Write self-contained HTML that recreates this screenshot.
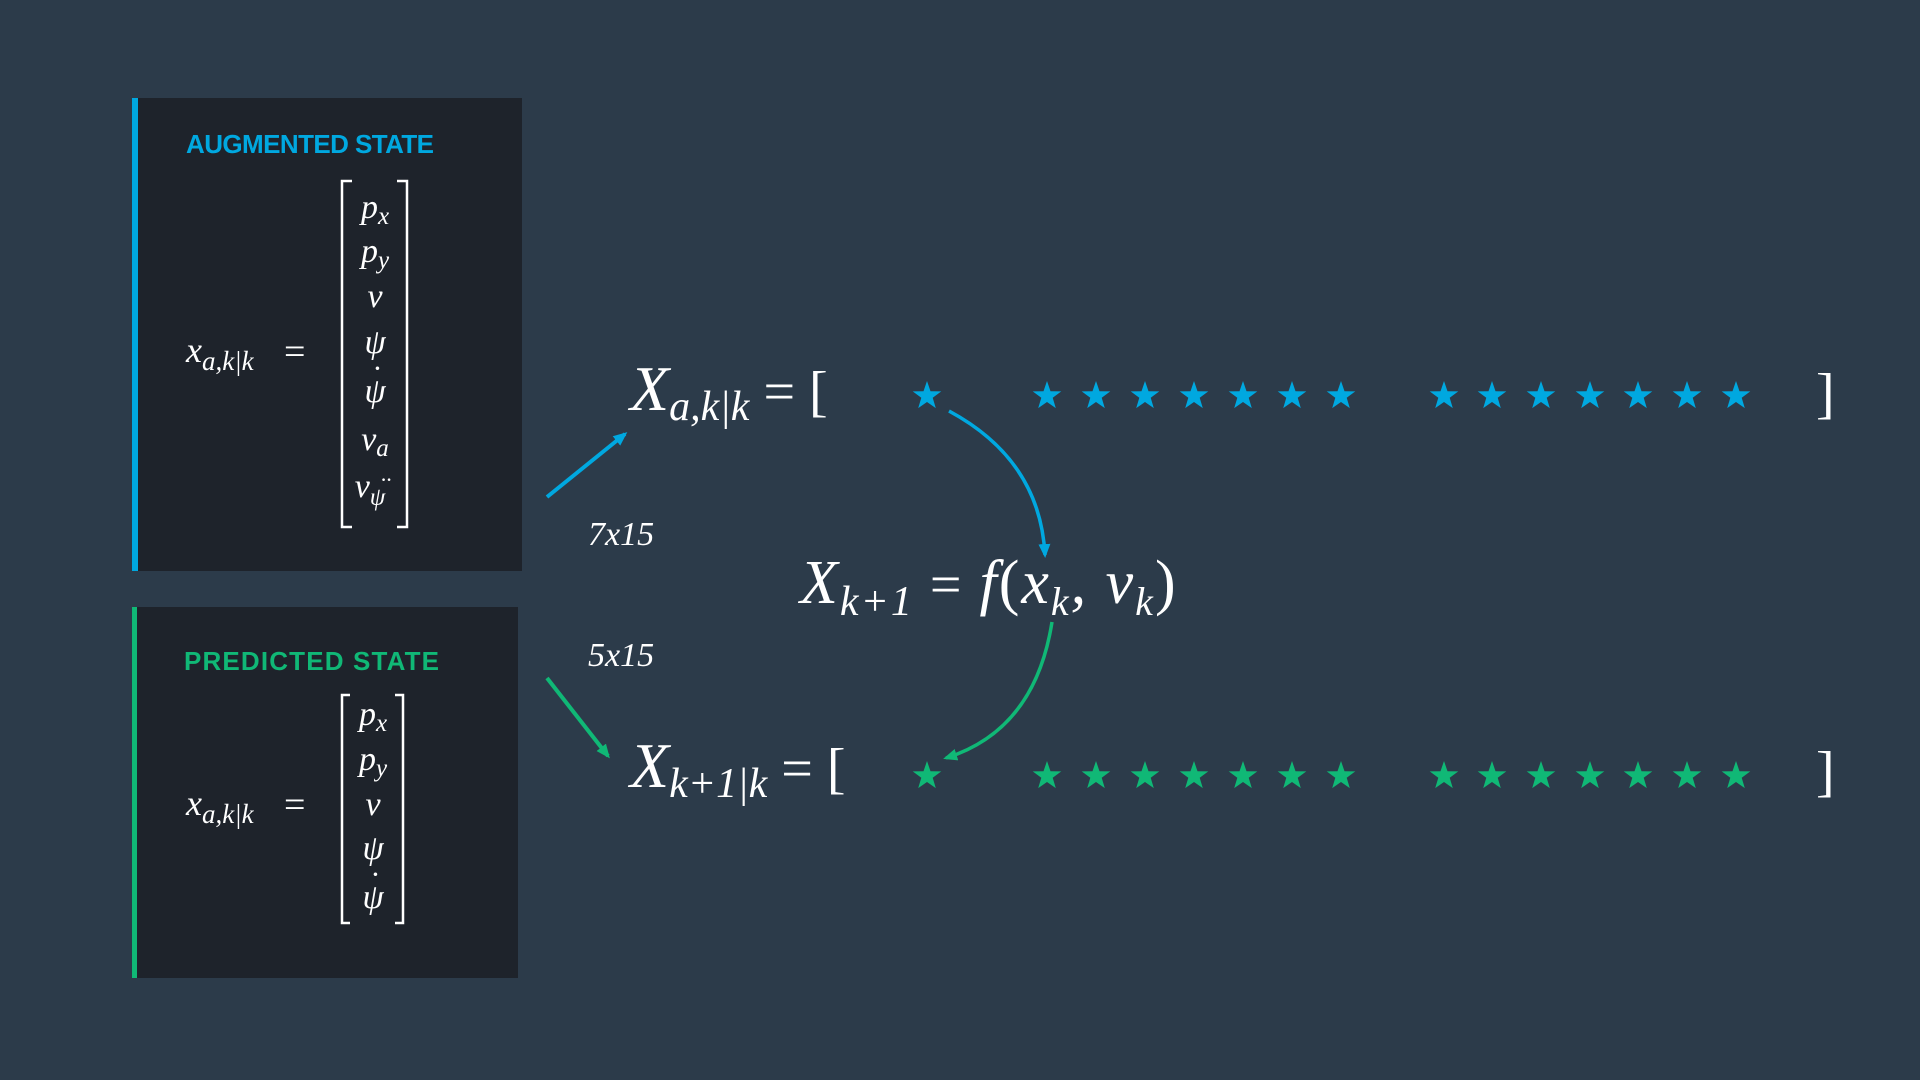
<!DOCTYPE html>
<html><head><style>
html,body{margin:0;padding:0;background:#2c3b4a;}
svg{display:block}
.m{font-family:"Liberation Serif",serif;font-style:italic;fill:#fff}
.r{font-family:"Liberation Serif",serif;fill:#fff}
.t{font-family:"Liberation Sans",sans-serif;font-weight:bold;font-size:26px}
</style></head><body>
<svg width="1920" height="1080" viewBox="0 0 1920 1080" xmlns="http://www.w3.org/2000/svg">
<defs>
<path id="st" d="M0,-15 L3.5,-4.8 L14.3,-4.6 L5.7,1.8 L8.8,12.1 L0,6 L-8.8,12.1 L-5.7,1.8 L-14.3,-4.6 L-3.5,-4.8 Z"/>
<marker id="ab" markerWidth="14" markerHeight="14" refX="11" refY="7" orient="auto" markerUnits="userSpaceOnUse"><path d="M0,1 L14,7 L0,13 Z" fill="#00a8e0"/></marker>
<marker id="ag" markerWidth="14" markerHeight="14" refX="11" refY="7" orient="auto" markerUnits="userSpaceOnUse"><path d="M0,1 L14,7 L0,13 Z" fill="#10b876"/></marker>
</defs>
<rect width="1920" height="1080" fill="#2c3b4a"/>
<!-- box 1 -->
<rect x="132" y="98" width="390" height="473" fill="#1e232b"/>
<rect x="132" y="98" width="6" height="473" fill="#00a8e0"/>
<text x="186" y="153" class="t" fill="#00a8e0" textLength="248">AUGMENTED STATE</text>
<text x="186" y="362" class="m" font-size="36">x<tspan font-size="27" dy="8">a,k|k</tspan></text>
<text x="284" y="364" class="r" font-size="38">=</text>
<path d="M352,181 H342 V527 H352 M397,181 H407 V527 H397" stroke="#fff" stroke-width="2.5" fill="none"/>
<g class="m" font-size="34" text-anchor="middle">
<text x="375" y="218">p<tspan font-size="25" dy="6">x</tspan></text>
<text x="375" y="262">p<tspan font-size="25" dy="6">y</tspan></text>
<text x="375" y="307">v</text>
<text x="375" y="353">ψ</text>
<text x="375" y="402">ψ</text>
<text x="377" y="378" font-size="30">·</text>
<text x="375" y="450">ν<tspan font-size="25" dy="6">a</tspan></text>
<text x="370" y="497">ν<tspan font-size="25" dy="8">ψ</tspan></text>
<text x="386" y="487" font-size="22">··</text>
</g>
<!-- box 2 -->
<rect x="132" y="607" width="386" height="371" fill="#1e232b"/>
<rect x="132" y="607" width="5" height="371" fill="#10b876"/>
<text x="184" y="670" class="t" fill="#10b876" textLength="255">PREDICTED STATE</text>
<text x="186" y="815" class="m" font-size="36">x<tspan font-size="27" dy="8">a,k|k</tspan></text>
<text x="284" y="817" class="r" font-size="38">=</text>
<path d="M350,695 H342 V923 H350 M395,695 H403 V923 H395" stroke="#fff" stroke-width="2.5" fill="none"/>
<g class="m" font-size="34" text-anchor="middle">
<text x="373" y="725">p<tspan font-size="25" dy="6">x</tspan></text>
<text x="373" y="770">p<tspan font-size="25" dy="6">y</tspan></text>
<text x="373" y="815">v</text>
<text x="373" y="859">ψ</text>
<text x="373" y="908">ψ</text>
<text x="375" y="884" font-size="30">·</text>
</g>
<!-- labels -->
<text x="588" y="545" class="m" font-size="34">7x15</text>
<text x="588" y="666" class="m" font-size="34">5x15</text>
<!-- equations -->
<text x="630" y="410" class="m" font-size="64">X<tspan font-size="42" dy="10">a,k|k</tspan><tspan class="r" font-style="normal" font-size="56" dy="-10"> = [</tspan></text>
<text x="630" y="787" class="m" font-size="64">X<tspan font-size="42" dy="10">k+1|k</tspan><tspan class="r" font-style="normal" font-size="56" dy="-10"> = [</tspan></text>
<text x="800" y="603" class="m" font-size="62" letter-spacing="2">X<tspan font-size="42" dy="12">k+1</tspan><tspan font-style="normal" font-size="56" dy="-12"> = </tspan>f<tspan font-style="normal">(</tspan>x<tspan font-size="40" dy="12">k</tspan><tspan dy="-12">, ν</tspan><tspan font-size="40" dy="12">k</tspan><tspan font-style="normal" dy="-12">)</tspan></text>
<text x="1816" y="412" class="r" font-size="56">]</text>
<text x="1816" y="790" class="r" font-size="56">]</text>
<!-- stars -->
<g fill="#00a8e0">
<use href="#st" x="927" y="396"/><use href="#st" x="1047" y="396"/><use href="#st" x="1096" y="396"/><use href="#st" x="1145" y="396"/><use href="#st" x="1194" y="396"/><use href="#st" x="1243" y="396"/><use href="#st" x="1292" y="396"/><use href="#st" x="1341" y="396"/>
<use href="#st" x="1444" y="396"/><use href="#st" x="1492" y="396"/><use href="#st" x="1541" y="396"/><use href="#st" x="1590" y="396"/><use href="#st" x="1638" y="396"/><use href="#st" x="1687" y="396"/><use href="#st" x="1736" y="396"/>
</g>
<g fill="#10b876">
<use href="#st" x="927" y="776"/><use href="#st" x="1047" y="776"/><use href="#st" x="1096" y="776"/><use href="#st" x="1145" y="776"/><use href="#st" x="1194" y="776"/><use href="#st" x="1243" y="776"/><use href="#st" x="1292" y="776"/><use href="#st" x="1341" y="776"/>
<use href="#st" x="1444" y="776"/><use href="#st" x="1492" y="776"/><use href="#st" x="1541" y="776"/><use href="#st" x="1590" y="776"/><use href="#st" x="1638" y="776"/><use href="#st" x="1687" y="776"/><use href="#st" x="1736" y="776"/>
</g>
<!-- arrows -->
<line x1="547" y1="497" x2="625" y2="434" stroke="#00a8e0" stroke-width="4" marker-end="url(#ab)"/>
<line x1="547" y1="678" x2="608" y2="756" stroke="#10b876" stroke-width="4" marker-end="url(#ag)"/>
<path d="M949,411 Q1040,460 1045,555" stroke="#00a8e0" stroke-width="3.5" fill="none" marker-end="url(#ab)"/>
<path d="M1052,622 Q1035,730 946,758" stroke="#10b876" stroke-width="3.5" fill="none" marker-end="url(#ag)"/>
</svg>
</body></html>
